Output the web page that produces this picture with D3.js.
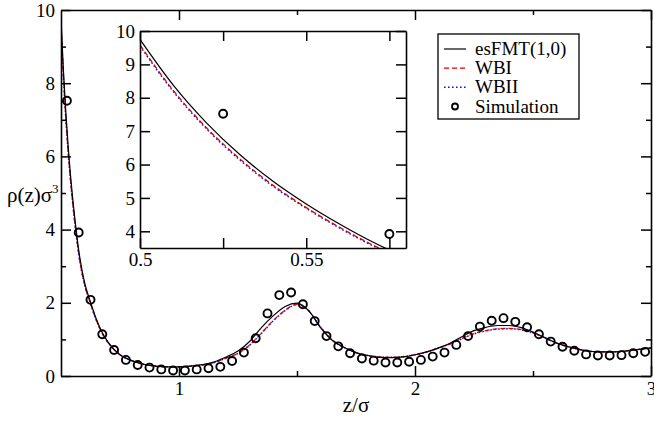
<!DOCTYPE html>
<html>
<head>
<meta charset="utf-8">
<script src="https://cdn.jsdelivr.net/npm/d3@7"></script>
<style>
  body { margin: 0; background: #fff; }
  svg { display: block; }
  svg text { font-family: "Liberation Serif", "DejaVu Serif", serif; fill: #000; }
</style>
</head>
<body>
<svg id="chart" width="654" height="423"></svg>
<script>
// curve grid (z/sigma) and density profiles
const zGrid = [0.50, 0.51, 0.52, 0.53, 0.54, 0.55, 0.56, 0.57, 0.58, 0.60, 0.625, 0.65, 0.675, 0.70,
  0.75, 0.80, 0.85, 0.90, 0.95, 1.00, 1.05, 1.10, 1.15, 1.20, 1.25, 1.30, 1.35, 1.40, 1.45, 1.50,
  1.55, 1.60, 1.65, 1.70, 1.75, 1.80, 1.85, 1.90, 1.95, 2.00, 2.05, 2.10, 2.15, 2.20, 2.25, 2.30,
  2.35, 2.40, 2.45, 2.50, 2.55, 2.60, 2.65, 2.70, 2.75, 2.80, 2.85, 2.90, 2.95, 3.00];

const esFMT = [9.75, 8.38, 7.25, 6.30, 5.50, 4.82, 4.22, 3.68, 3.22, 2.55, 2.02, 1.55, 1.18, 0.92,
  0.58, 0.42, 0.32, 0.27, 0.25, 0.25, 0.27, 0.31, 0.39, 0.52, 0.68, 0.95, 1.33, 1.65, 1.90, 1.99,
  1.78, 1.32, 0.97, 0.78, 0.64, 0.56, 0.51, 0.50, 0.52, 0.58, 0.66, 0.77, 0.90, 1.08, 1.24, 1.33,
  1.38, 1.38, 1.32, 1.20, 1.05, 0.90, 0.80, 0.72, 0.67, 0.66, 0.66, 0.69, 0.73, 0.77];

const wbI = [9.58, 8.22, 7.10, 6.17, 5.38, 4.71, 4.12, 3.59, 3.14, 2.50, 1.98, 1.52, 1.16, 0.91,
  0.58, 0.42, 0.32, 0.27, 0.25, 0.25, 0.27, 0.30, 0.37, 0.49, 0.62, 0.85, 1.18, 1.52, 1.80, 1.96,
  1.78, 1.33, 0.98, 0.78, 0.64, 0.56, 0.52, 0.51, 0.53, 0.58, 0.66, 0.76, 0.88, 1.03, 1.16, 1.24,
  1.29, 1.30, 1.27, 1.18, 1.04, 0.90, 0.80, 0.72, 0.67, 0.66, 0.66, 0.69, 0.73, 0.77];

const wbII = [9.55, 8.19, 7.07, 6.14, 5.35, 4.69, 4.10, 3.57, 3.12, 2.49, 1.97, 1.52, 1.16, 0.91,
  0.58, 0.42, 0.32, 0.27, 0.25, 0.25, 0.27, 0.30, 0.37, 0.49, 0.62, 0.85, 1.17, 1.51, 1.79, 1.95,
  1.78, 1.33, 0.98, 0.78, 0.64, 0.56, 0.52, 0.51, 0.53, 0.58, 0.66, 0.76, 0.88, 1.02, 1.15, 1.23,
  1.28, 1.29, 1.26, 1.17, 1.04, 0.90, 0.80, 0.72, 0.67, 0.66, 0.66, 0.69, 0.73, 0.77];

// simulation points
const simZ = [0.525, 0.575, 0.625, 0.675, 0.725, 0.775, 0.825, 0.875, 0.925, 0.975,
  1.025, 1.075, 1.125, 1.175, 1.225, 1.275, 1.325, 1.375, 1.425, 1.475,
  1.525, 1.575, 1.625, 1.675, 1.725, 1.775, 1.825, 1.875, 1.925, 1.975,
  2.025, 2.075, 2.125, 2.175, 2.225, 2.275, 2.325, 2.375, 2.425, 2.475,
  2.525, 2.575, 2.625, 2.675, 2.725, 2.775, 2.825, 2.875, 2.925, 2.975];
const simRho = [7.52, 3.92, 2.08, 1.14, 0.71, 0.44, 0.30, 0.23, 0.18, 0.15,
  0.15, 0.18, 0.21, 0.25, 0.41, 0.64, 1.03, 1.71, 2.21, 2.28,
  1.96, 1.50, 1.09, 0.81, 0.62, 0.48, 0.42, 0.37, 0.37, 0.39,
  0.44, 0.53, 0.64, 0.85, 1.09, 1.35, 1.51, 1.58, 1.48, 1.33,
  1.14, 0.94, 0.80, 0.69, 0.59, 0.56, 0.56, 0.57, 0.62, 0.66];

// ticks
const mainXMajor = [1, 2, 3];
const mainXMinor = [1.5, 2.5];
const mainYMajor = [0, 2, 4, 6, 8, 10];
const mainYMinor = [1, 3, 5, 7, 9];
const insetXMajor = [0.5, 0.55];
const insetXMinor = [0.525, 0.575];
const insetYMajor = [4, 5, 6, 7, 8, 9, 10];

const seriesNames = ["esFMT(1,0)", "WBI", "WBII", "Simulation"];

const svg = d3.select("#chart");
const FONT = '"Liberation Serif", "DejaVu Serif", serif';

const seriesStyle = [
  { values: esFMT, color: "#000", dash: null, width: 1.2 },
  { values: wbI, color: "#e00000", dash: "5,3", width: 1.3 },
  { values: wbII, color: "#1010ff", dash: "1.6,2.4", width: 1.5 }
];

function drawPanel(id, x, y, opt) {
  const g = svg.append("g").attr("class", id);
  const [x0, x1] = x.range();
  const [y0, y1] = y.range();

  g.append("rect")
    .attr("x", x0).attr("y", y1)
    .attr("width", x1 - x0).attr("height", y0 - y1)
    .attr("fill", "#fff");

  g.append("clipPath").attr("id", "clip_" + id)
    .append("rect")
    .attr("x", x0).attr("y", y1)
    .attr("width", x1 - x0).attr("height", y0 - y1);

  const plot = g.append("g").attr("clip-path", `url(#clip_${id})`);

  const line = d3.line()
    .x((d, i) => x(zGrid[i]))
    .y((d) => y(d))
    .curve(d3.curveMonotoneX);

  // blue, red, then black on top
  [seriesStyle[2], seriesStyle[1], seriesStyle[0]].forEach((s) => {
    plot.append("path")
      .datum(s.values)
      .attr("d", line)
      .attr("fill", "none")
      .attr("stroke", s.color)
      .attr("stroke-width", s.width)
      .attr("stroke-dasharray", s.dash);
  });

  plot.selectAll(".sim")
    .data(simZ)
    .join("circle")
    .attr("class", "sim")
    .attr("cx", (d) => x(d))
    .attr("cy", (d, i) => y(simRho[i]))
    .attr("r", 4)
    .attr("fill", "none")
    .attr("stroke", "#000")
    .attr("stroke-width", 1.9);

  // axes, inward ticks on all four sides
  const sides = [
    { make: d3.axisBottom, scale: x, t: `translate(0,${y0})`, major: opt.xMajor, minor: opt.xMinor, fmt: opt.fmtX },
    { make: d3.axisTop, scale: x, t: `translate(0,${y1})`, major: opt.xMajor, minor: opt.xMinor, fmt: "" },
    { make: d3.axisLeft, scale: y, t: `translate(${x0},0)`, major: opt.yMajor, minor: opt.yMinor, fmt: opt.fmtY },
    { make: d3.axisRight, scale: y, t: `translate(${x1},0)`, major: opt.yMajor, minor: opt.yMinor, fmt: "" }
  ];

  sides.forEach((s) => {
    if (s.minor.length) {
      const gm = g.append("g").attr("transform", s.t)
        .call(s.make(s.scale).tickValues(s.minor).tickSize(-opt.minorLen).tickSizeOuter(0).tickFormat(""));
      gm.select(".domain").remove();
      gm.selectAll("line").attr("stroke", "#000").attr("stroke-width", 1.5);
    }
    const ga = g.append("g").attr("transform", s.t)
      .call(s.make(s.scale).tickValues(s.major).tickSize(-opt.majorLen).tickSizeOuter(0)
        .tickPadding(opt.pad).tickFormat(s.fmt));
    ga.attr("font-family", FONT).attr("font-size", 19);
    ga.select(".domain").attr("stroke", "#000").attr("stroke-width", 1.6);
    ga.selectAll("line").attr("stroke", "#000").attr("stroke-width", 1.5);
    ga.selectAll("text").style("font-family", FONT).style("font-size", "19px").attr("fill", "#000");
  });

  return g;
}

// main plot
const xMain = d3.scaleLinear().domain([0.5, 3]).range([61, 651]);
const yMain = d3.scaleLinear().domain([0, 10]).range([376, 10]);

drawPanel("main", xMain, yMain, {
  xMajor: mainXMajor, xMinor: mainXMinor, yMajor: mainYMajor, yMinor: mainYMinor,
  majorLen: 10, minorLen: 5, pad: 6,
  fmtX: d3.format("d"), fmtY: d3.format("d")
});

// axis titles
svg.append("text")
  .attr("x", 7).attr("y", 202)
  .style("font-family", FONT)
  .style("font-size", "21px")
  .text("ρ(z)σ")
  .append("tspan")
  .attr("dy", -9)
  .style("font-size", "13px")
  .text("3");

svg.append("text")
  .attr("x", (xMain.range()[0] + xMain.range()[1]) / 2)
  .attr("y", 412)
  .attr("text-anchor", "middle")
  .style("font-family", FONT)
  .style("font-size", "21px")
  .text("z/σ");

// inset
const xIn = d3.scaleLinear().domain([0.5, 0.58]).range([140, 406]);
const yIn = d3.scaleLinear().domain([3.5, 10]).range([248, 31]);

drawPanel("inset", xIn, yIn, {
  xMajor: insetXMajor, xMinor: insetXMinor, yMajor: insetYMajor, yMinor: [],
  majorLen: 10, minorLen: 10, pad: 5,
  fmtX: d3.format(""), fmtY: d3.format("d")
});

// legend
const legend = svg.append("g").attr("class", "legend");
legend.append("rect")
  .attr("x", 438).attr("y", 34)
  .attr("width", 141).attr("height", 85)
  .attr("fill", "#fff")
  .attr("stroke", "#000")
  .attr("stroke-width", 1.3);

const yLeg = d3.scalePoint().domain(seriesNames).range([49, 106.5]);

const rows = legend.selectAll(".row")
  .data(seriesNames)
  .join("g")
  .attr("class", "row")
  .attr("transform", (d) => `translate(0,${yLeg(d)})`);

rows.filter((d, i) => i < 3)
  .append("line")
  .attr("x1", 444).attr("x2", 466)
  .attr("stroke", (d, i) => seriesStyle[i].color)
  .attr("stroke-width", (d, i) => seriesStyle[i].width)
  .attr("stroke-dasharray", (d, i) => seriesStyle[i].dash);

rows.filter((d, i) => i === 3)
  .append("circle")
  .attr("cx", 455).attr("r", 3)
  .attr("fill", "none")
  .attr("stroke", "#000")
  .attr("stroke-width", 1.8);

rows.append("text")
  .attr("x", 475).attr("y", 6)
  .style("font-family", FONT)
  .style("font-size", "19px")
  .text((d) => d);
</script>
</body>
</html>
